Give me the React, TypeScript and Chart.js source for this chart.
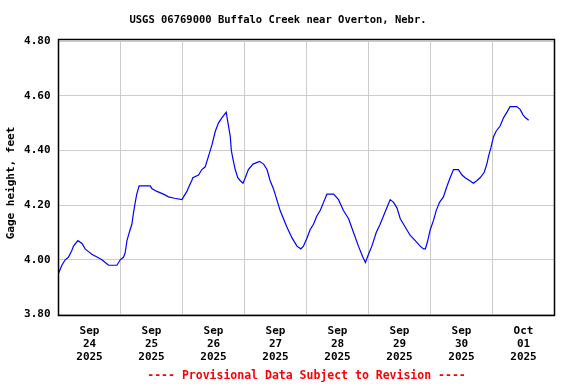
import React, { useEffect, useRef } from "react";
import { Chart, registerables } from "chart.js";

Chart.register(...registerables);

// hours since Sep 24 2025 00:00
const hours = [
  0, 1.3, 2.6, 3.9, 5.2, 5.8, 7.5, 9.1, 10.3, 11.6, 12.9, 14.9, 16.8, 18.1, 19.4, 22.6, 23.9,
  25.2, 25.8, 26.5, 27.4, 28.4, 29.0, 29.7, 30.3, 31.2, 35.5, 36.2, 38.1, 40.6, 42.6, 44.9, 47.8,
  48.4, 49.7, 50.6, 51.6, 52.0, 54.2, 55.5, 56.8, 58.1, 59.4, 60.7, 61.9, 63.3, 64.9, 65.8, 66.5,
  66.9, 67.5, 68.4, 69.4, 70.3, 71.4, 72.3, 73.5, 75.3, 77.8, 79.4, 80.7, 81.9, 83.2, 84.5, 85.8,
  87.1, 88.4, 90.4, 92.3, 93.8, 94.8, 96.2, 97.4, 98.7, 100.0, 101.3, 102.6, 103.9, 106.5, 108.4,
  110.3, 112.3, 114.2, 116.1, 117.8, 118.8, 120.0, 121.3, 123.0, 124.5, 125.8, 127.1, 128.4, 129.7,
  131.0, 132.3, 134.2, 136.1, 138.1, 140.0, 141.3, 142.0, 142.8, 143.9, 145.2, 146.2, 147.5, 149.0,
  150.4, 151.6, 152.9, 154.8, 156.2, 157.4, 159.1, 160.6, 162.0, 163.2, 164.8, 165.8, 166.5, 167.4,
  168.4, 169.4, 171.0, 172.3, 173.6, 174.8, 177.4, 178.7, 179.8, 180.7, 182.0,
];

const gageHeight = [
  3.95, 3.98, 4.0, 4.01, 4.035, 4.05, 4.07, 4.06, 4.04, 4.03, 4.02, 4.01, 4.0, 3.99, 3.98, 3.98, 4.0,
  4.01, 4.025, 4.07, 4.1, 4.13, 4.17, 4.21, 4.24, 4.27, 4.27, 4.26, 4.25, 4.24, 4.23, 4.225, 4.22,
  4.23, 4.25, 4.27, 4.29, 4.3, 4.31, 4.33, 4.34, 4.38, 4.42, 4.47, 4.5, 4.52, 4.54, 4.49, 4.45,
  4.4, 4.37, 4.33, 4.3, 4.29, 4.28, 4.3, 4.33, 4.35, 4.36, 4.35, 4.33, 4.29, 4.26, 4.22, 4.18,
  4.15, 4.12, 4.08, 4.05, 4.04, 4.05, 4.08, 4.11, 4.13, 4.16, 4.18, 4.21, 4.24, 4.24, 4.22,
  4.18, 4.15, 4.1, 4.05, 4.01, 3.99, 4.02, 4.05, 4.1, 4.13, 4.16, 4.19, 4.22, 4.21,
  4.19, 4.15, 4.12, 4.09, 4.07, 4.05, 4.04, 4.04, 4.065, 4.11, 4.145, 4.18, 4.21, 4.23,
  4.27, 4.3, 4.33, 4.33, 4.31, 4.3, 4.29, 4.28, 4.29, 4.3, 4.32, 4.35, 4.38, 4.41,
  4.45, 4.47, 4.49, 4.52, 4.54, 4.56, 4.56, 4.55, 4.53, 4.52, 4.51,
];

const tickMonths = ["Sep", "Sep", "Sep", "Sep", "Sep", "Sep", "Sep", "Oct"];
const tickDays = ["24", "25", "26", "27", "28", "29", "30", "01"];
const tickYear = "2025";

const titleText = "USGS 06769000 Buffalo Creek near Overton, Nebr.";
const yTitle = "Gage height, feet";
const footerText = "---- Provisional Data Subject to Revision ----";

const FONT = "'DejaVu Sans Mono', 'Liberation Mono', monospace";

export default function App() {
  const ref = useRef<HTMLCanvasElement>(null);

  useEffect(() => {
    document.body.style.margin = "0";
    const canvas = ref.current;
    if (!canvas) return;

    const decor = {
      id: "decor",
      afterDraw(chart: any) {
        const { ctx, chartArea } = chart;
        ctx.save();
        ctx.strokeStyle = "#000";
        ctx.lineWidth = 1.5;
        ctx.strokeRect(chartArea.left, chartArea.top - 1.5, chartArea.right - chartArea.left, chartArea.bottom - chartArea.top + 2.5);
        ctx.fillStyle = "#000";
        ctx.font = `bold 10.5px ${FONT}`;
        ctx.textAlign = "center";
        ctx.textBaseline = "middle";
        ctx.fillText(titleText, 278, 20);
        ctx.font = `bold 11px ${FONT}`;
        ctx.save();
        ctx.translate(11, 183);
        ctx.rotate(-Math.PI / 2);
        ctx.fillText(yTitle, 0, 0);
        ctx.restore();
        ctx.fillStyle = "#ff0000";
        ctx.font = `bold 11.5px ${FONT}`;
        ctx.fillText(footerText, (chartArea.left + chartArea.right) / 2, 376);
        ctx.restore();
      },
    };

    const chart = new Chart(canvas, {
      type: "line",
      data: {
        datasets: [
          {
            data: hours.map((h, i) => ({ x: h, y: gageHeight[i] })),
            borderColor: "#0000ff",
            borderWidth: 1.2,
            pointRadius: 0,
            tension: 0,
            fill: false,
          },
        ],
      },
      options: {
        animation: false,
        responsive: false,
        layout: { padding: { left: 0, right: 21.5, top: 41, bottom: 0 } },
        plugins: { legend: { display: false }, tooltip: { enabled: false }, title: { display: false } },
        scales: {
          x: {
            type: "linear",
            min: 0,
            max: 192,
            afterFit(scale: any) {
              scale.height = 69.5;
            },
            afterBuildTicks(scale: any) {
              const t = [];
              for (let v = 0; v <= 192; v += 12) t.push({ value: v });
              scale.ticks = t;
            },
            border: { display: false },
            grid: {
              drawTicks: false,
              color: (c: any) => {
                const v = c.tick ? c.tick.value : 0;
                return v % 24 === 0 && v > 0 && v < 192 ? "#cccccc" : "rgba(0,0,0,0)";
              },
              lineWidth: 1,
            },
            ticks: {
              autoSkip: false,
              maxRotation: 0,
              padding: 10,
              color: "#000",
              font: { family: FONT, size: 11, weight: "bold", lineHeight: 1.18 },
              callback: (v: any) => {
                const n = Number(v);
                if (n % 24 !== 12) return "";
                const i = Math.floor(n / 24);
                return [tickMonths[i], tickDays[i], tickYear];
              },
            },
          },
          y: {
            min: 3.8,
            max: 4.8,
            afterFit(scale: any) {
              scale.width = 58.5;
            },
            border: { display: false },
            grid: { drawTicks: false, color: "#cccccc", lineWidth: 1 },
            ticks: {
              stepSize: 0.2,
              padding: 8,
              color: "#000",
              font: { family: FONT, size: 11, weight: "bold" },
              callback: (v: any) => Number(v).toFixed(2),
            },
          },
        },
      },
      plugins: [decor],
    });

    return () => chart.destroy();
  }, []);

  return <canvas ref={ref} width={576} height={384} style={{ display: "block" }} />;
}
